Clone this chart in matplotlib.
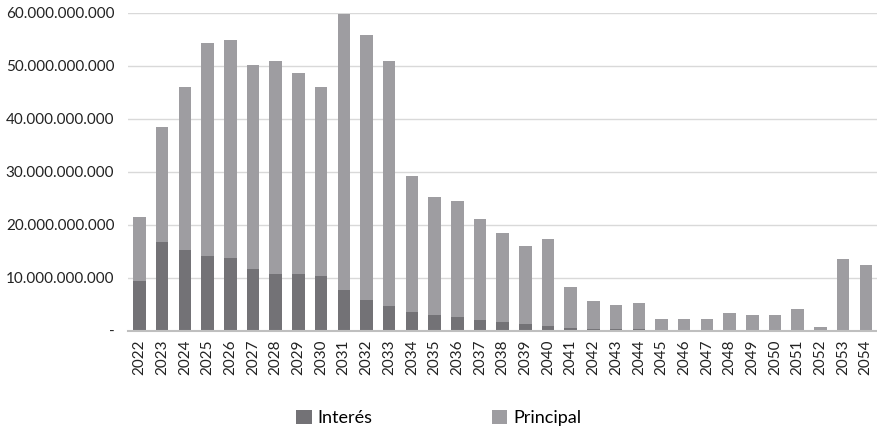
import matplotlib
matplotlib.use("Agg")
import matplotlib.pyplot as plt
from matplotlib.ticker import FuncFormatter
import numpy as np

years = [str(y) for y in range(2022, 2055)]
# Annual debt service, in billions
interes = [9.4, 16.8, 15.3, 14.1, 13.7, 11.7, 10.7, 10.7, 10.3, 7.7,
           5.8, 4.7, 3.5, 3.0, 2.6, 2.0, 1.6, 1.3, 0.9, 0.5,
           0.35, 0.3, 0.3, 0.1, 0.1, 0.1, 0.1, 0.1, 0.1, 0.1,
           0.05, 0.1, 0.1]
total = [21.5, 38.5, 46.1, 54.4, 54.8, 50.2, 51.0, 48.7, 46.1, 59.7,
         55.9, 51.0, 29.2, 25.3, 24.5, 21.1, 18.5, 16.0, 17.3, 8.3,
         5.6, 4.8, 5.2, 2.2, 2.2, 2.2, 3.3, 2.9, 2.9, 4.1,
         0.6, 13.6, 12.4]
principal = [t - i for t, i in zip(total, interes)]

scale = 1e9
interes_v = np.array(interes) * scale
principal_v = np.array(principal) * scale

plt.rcParams['font.family'] = ['Lato', 'DejaVu Sans']

fig = plt.figure(figsize=(8.78, 4.30), dpi=100)
ax = fig.add_axes([0.146, 0.231, 0.853, 0.739])

x = np.arange(len(years))
c_int = '#737276'
c_pri = '#9e9da1'
ax.bar(x, interes_v, width=0.55, color=c_int, label='Interés', zorder=3)
ax.bar(x, principal_v, width=0.55, bottom=interes_v, color=c_pri,
       label='Principal', zorder=3)

ax.set_xlim(-0.5, len(years) - 0.5)
ax.set_ylim(0, 60e9)
ax.set_yticks(np.arange(0, 60e9 + 1, 10e9))


def fmt(v, pos):
    if v == 0:
        return '-'
    return f"{int(round(v)):,}".replace(',', '.')


ax.yaxis.set_major_formatter(FuncFormatter(fmt))
ax.grid(axis='y', color='#d9d9d9', linewidth=1.0, zorder=0)
for s in ['top', 'right', 'left']:
    ax.spines[s].set_visible(False)
ax.spines['bottom'].set_color('#bfbfbf')
ax.spines['bottom'].set_linewidth(1.5)
ax.spines['bottom'].set_zorder(4)

ax.set_xticks(x)
ax.set_xticklabels(years, rotation=90, fontsize=11, color='#222222')
ax.tick_params(axis='x', length=0, pad=6)
ax.tick_params(axis='y', length=0, pad=10, labelsize=11, labelcolor='#222222')

fig.legend(loc='center', bbox_to_anchor=(0.5, 0.028), ncol=2,
           frameon=False, fontsize=13, handlelength=0.85, handleheight=0.85,
           handletextpad=0.35, columnspacing=6.6)

fig.savefig('out.png', dpi=100)
